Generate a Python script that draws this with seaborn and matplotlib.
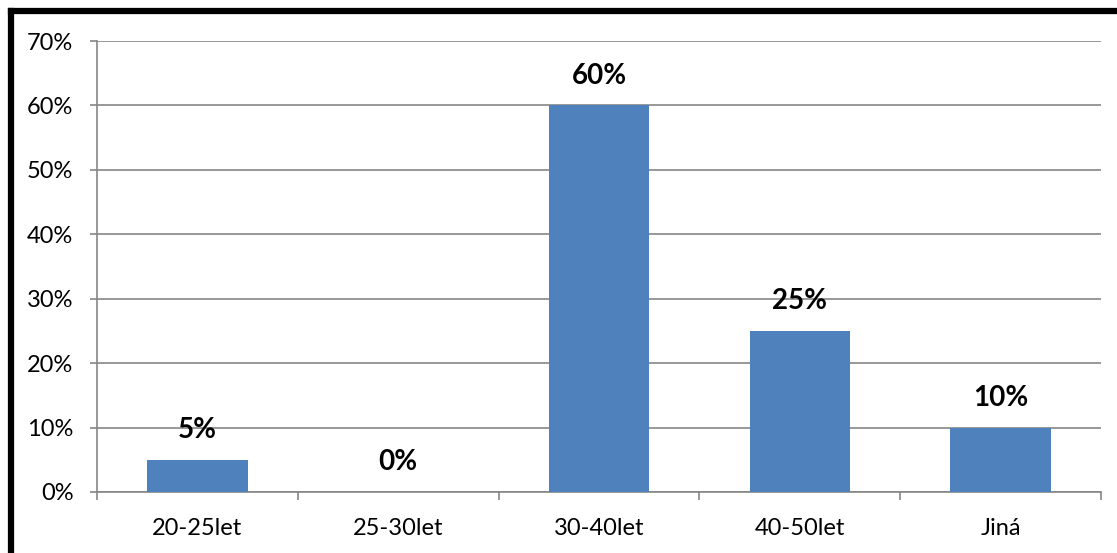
import matplotlib
matplotlib.use("Agg")
import matplotlib.pyplot as plt
from matplotlib.lines import Line2D
from matplotlib.ticker import FixedLocator, FuncFormatter
import seaborn as sns
import pandas as pd

# Age groups and share of respondents (percent)
categories = ["20-25let", "25-30let", "30-40let", "40-50let", "Jiná"]
shares = [5, 0, 60, 25, 10]
y_ticks = [0, 10, 20, 30, 40, 50, 60, 70]

sns.set_theme(style="white")
plt.rcParams["font.family"] = ["Lato", "DejaVu Sans"]

W, H = 1117, 553
fig = plt.figure(figsize=(W / 100, H / 100), dpi=100)
fig.patch.set_facecolor("white")

# plot area in pixel coordinates
left, right, top, bottom = 97, 1101, 41, 492
ax = fig.add_axes([left / W, 1 - bottom / H, (right - left) / W, (bottom - top) / H])

df = pd.DataFrame({"kat": categories, "podil": shares})
sns.barplot(data=df, x="kat", y="podil", color="#4F81BD", width=0.5,
            saturation=1, linewidth=0, edgecolor="none", ax=ax, zorder=3)

grid_col = "#868686"
ax.set_ylim(0, 70)
ax.set_xlim(-0.5, len(categories) - 0.5)
ax.yaxis.set_major_locator(FixedLocator(y_ticks))
ax.yaxis.set_major_formatter(FuncFormatter(lambda v, p: f"{v:.0f}%"))
ax.grid(axis="y", color=grid_col, linewidth=1.2, zorder=0)
ax.set_axisbelow(True)

for s in ["top", "right"]:
    ax.spines[s].set_visible(False)
for s in ["left", "bottom"]:
    ax.spines[s].set_color(grid_col)
    ax.spines[s].set_linewidth(1.2)

ax.set_xlabel("")
ax.set_ylabel("")
ax.tick_params(axis="y", which="major", length=5, width=1.2, color=grid_col,
               labelsize=17, pad=12, labelcolor="black", left=True)
ax.tick_params(axis="x", which="major", length=0, labelsize=17, pad=19,
               labelcolor="black")
# tick marks between categories
ax.xaxis.set_minor_locator(FixedLocator([i - 0.5 for i in range(len(categories) + 1)]))
ax.tick_params(axis="x", which="minor", length=6, width=1.2, color=grid_col, bottom=True)

labels = [f"{v}%" for v in shares]
ax.bar_label(ax.containers[0], labels=labels, padding=12, fontsize=20,
             fontweight="bold", color="black")

# chart frame (top and left edges)
fig.add_artist(Line2D([10.5 / W, 1], [1 - 10.5 / H, 1 - 10.5 / H],
                      transform=fig.transFigure, color="black", linewidth=4.5,
                      solid_capstyle="projecting"))
fig.add_artist(Line2D([10.5 / W, 10.5 / W], [0, 1 - 10.5 / H],
                      transform=fig.transFigure, color="black", linewidth=4.5,
                      solid_capstyle="projecting"))

fig.savefig("out.png", dpi=100, facecolor="white")
